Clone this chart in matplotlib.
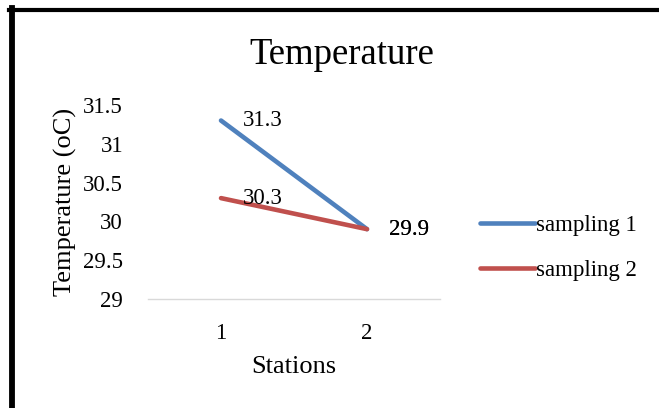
import numpy as np
import matplotlib.pyplot as plt
from matplotlib.lines import Line2D

# data
stations = [1, 2]
sampling_1 = [31.3, 29.9]
sampling_2 = [30.3, 29.9]
series_names = ["sampling 1", "sampling 2"]
colors = ["#4f81bd", "#c0504d"]

plt.rcParams['font.family'] = ['Liberation Serif', 'DejaVu Serif']

W, H = 659, 408
fig = plt.figure(figsize=(W / 100, H / 100), dpi=100)
ax = fig.add_axes([148 / W, 1 - 299 / H, (440 - 148) / W, (299 - 105) / H])

x = np.arange(len(stations))
for vals, name, c in zip([sampling_1, sampling_2], series_names, colors):
    ax.plot(x, vals, color=c, lw=3.3, solid_capstyle='round', label=name)
    for xi, v in zip(x, vals):
        ax.annotate(f"{v}", (xi, v), xytext=(16, 0), textcoords='offset points',
                    ha='left', va='center', fontsize=16.5)

ax.set_xlim(-0.5, 1.5)
ax.set_ylim(29, 31.5)
ax.set_yticks([29, 29.5, 30, 30.5, 31, 31.5])
ax.set_yticklabels(["29", "29.5", "30", "30.5", "31", "31.5"])
ax.set_xticks(x)
ax.set_xticklabels([str(s) for s in stations])
ax.tick_params(axis='both', length=0, labelsize=16.5)
ax.tick_params(axis='y', pad=18)
ax.tick_params(axis='x', pad=17)
for s in ['top', 'right', 'left']:
    ax.spines[s].set_visible(False)
ax.spines['bottom'].set_color('#d9d9d9')
ax.spines['bottom'].set_linewidth(1)

ax.set_xlabel("Stations", fontsize=19, labelpad=9)
ax.set_ylabel("Temperature (oC)", fontsize=19, labelpad=4)
fig.text(342 / W, 1 - 55 / H, "Temperature", fontsize=26.5, ha='center', va='center')

ax.legend(loc='center left', bbox_to_anchor=(459 / W, 1 - 248 / H),
          bbox_transform=fig.transFigure, frameon=False, fontsize=16.5,
          handlelength=2.4, handletextpad=0.05, labelspacing=1.05)

# border (only left and top visible in the crop)
fig.add_artist(Line2D([12 / W, 12 / W], [0, 1 - 8.3 / H], transform=fig.transFigure,
                      color='black', lw=4.2))
fig.add_artist(Line2D([9.3 / W, 1], [1 - 10.3 / H, 1 - 10.3 / H], transform=fig.transFigure,
                      color='black', lw=3))

fig.savefig("out.png", dpi=100)
